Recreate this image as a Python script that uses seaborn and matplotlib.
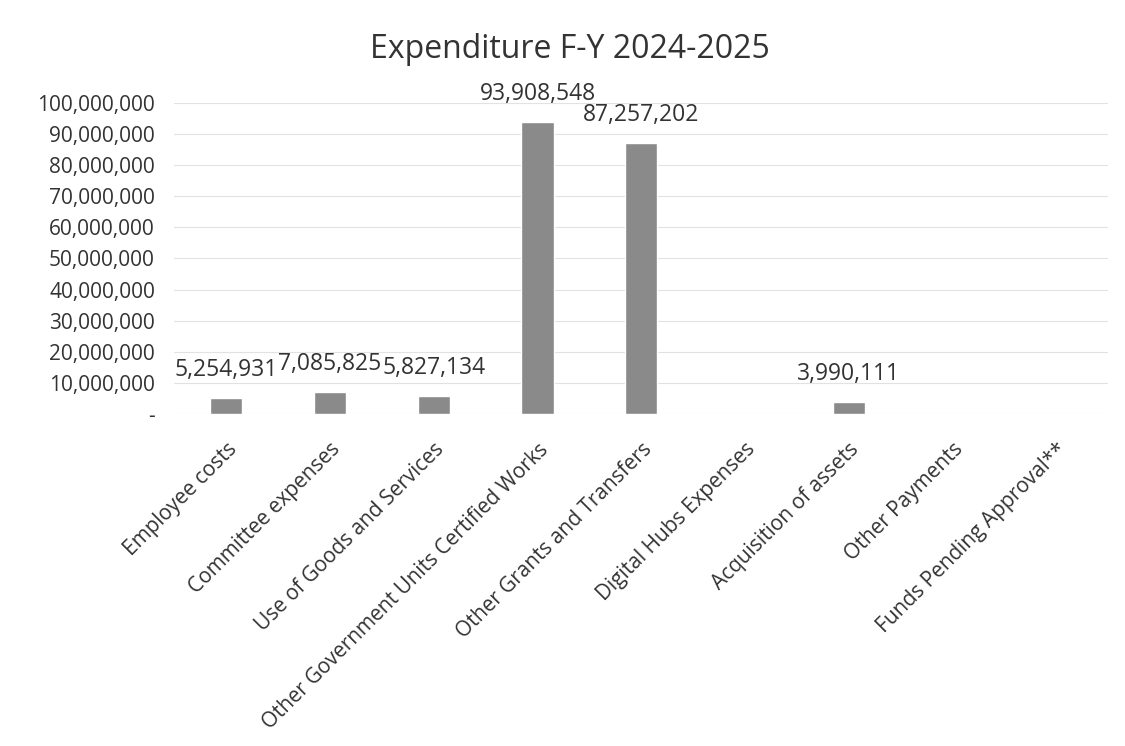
import matplotlib.pyplot as plt
import matplotlib.ticker as mticker
import pandas as pd
import seaborn as sns

categories = [
    "Employee costs",
    "Committee expenses",
    "Use of Goods and Services",
    "Other Government Units Certified Works",
    "Other Grants and Transfers",
    "Digital Hubs Expenses",
    "Acquisition of assets",
    "Other Payments",
    "Funds Pending Approval**",
]
amounts = [5254931, 7085825, 5827134, 93908548, 87257202, 0, 3990111, 0, 0]
y_ticks = list(range(0, 100000001, 10000000))

df = pd.DataFrame({"category": categories, "amount": amounts})

sns.set_style("white")
plt.rcParams["font.family"] = ["Open Sans", "DejaVu Sans"]

fig, ax = plt.subplots(figsize=(11.25, 7.46), dpi=100)
sns.barplot(data=df, x="category", y="amount", color="#8a8a8a",
            width=0.31, ax=ax, saturation=1)

for i, v in enumerate(amounts):
    if v > 0:
        ax.text(i, v + 5000000, f"{v:,}", ha="center", va="bottom",
                fontsize=16.5, color="#333333")

ax.set_ylim(0, 100000000)
ax.set_yticks(y_ticks)
ax.yaxis.set_major_formatter(mticker.FuncFormatter(
    lambda v, _: "-" if v == 0 else f"{int(v):,}"))
ax.yaxis.grid(True, color="#e2e2e2", linewidth=0.8)
ax.set_axisbelow(True)
for s in ax.spines.values():
    s.set_visible(False)
ax.tick_params(axis="y", labelsize=15, colors="#333333", length=0, pad=14)
ax.tick_params(axis="x", labelsize=15, colors="#333333", length=0, pad=18)
plt.setp(ax.get_xticklabels(), rotation=45, ha="right", rotation_mode="anchor")
ax.set_xlabel("")
ax.set_ylabel("")
fig.text(0.507, 0.933, "Expenditure F-Y 2024-2025", ha="center", va="center",
         fontsize=23, color="#333333")

fig.subplots_adjust(left=0.155, right=0.985, top=0.862, bottom=0.445)
fig.savefig("out.png", dpi=100)
